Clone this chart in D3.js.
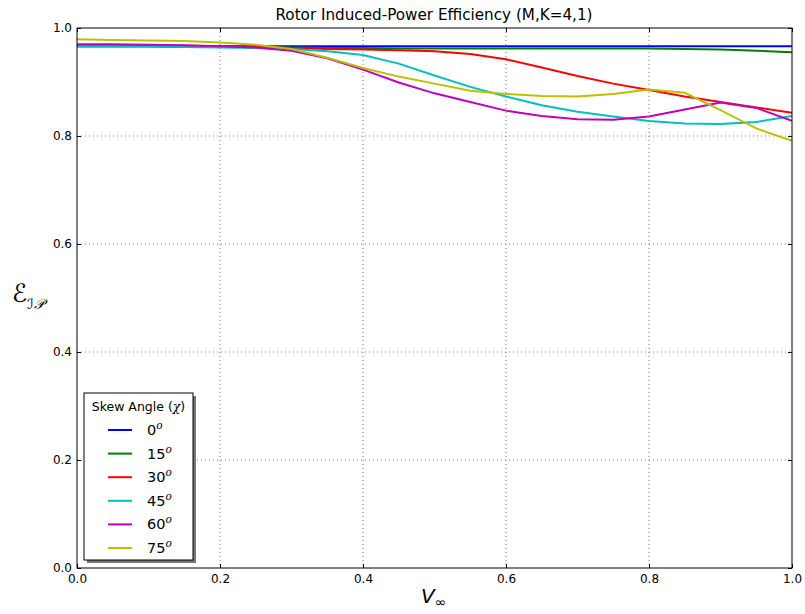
<!DOCTYPE html>
<html><head><meta charset="utf-8">
<script src="https://cdn.jsdelivr.net/npm/d3@7"></script>
<style>body{margin:0;background:#fff}svg{display:block}text{font-family:"DejaVu Sans",sans-serif}</style>
</head><body><svg id="c" width="805" height="614"></svg>
<script>
const xs = [0,0.05,0.1,0.15,0.2,0.25,0.3,0.35,0.4,0.45,0.5,0.55,0.6,0.65,0.7,0.75,0.8,0.85,0.9,0.95,1.0];
const angles = ["0","15","30","45","60","75"];
const colors = ["#0000ff","#008000","#ff0000","#00bfbf","#bf00bf","#bfbf00"];
const s0  = [0.966,0.966,0.966,0.966,0.966,0.966,0.966,0.966,0.966,0.966,0.966,0.966,0.966,0.966,0.966,0.966,0.966,0.966,0.966,0.966,0.966];
const s15 = [0.966,0.966,0.966,0.965,0.965,0.965,0.964,0.963,0.963,0.962,0.962,0.962,0.962,0.962,0.962,0.962,0.962,0.961,0.960,0.958,0.955];
const s30 = [0.968,0.968,0.967,0.967,0.966,0.965,0.963,0.961,0.960,0.959,0.957,0.952,0.942,0.927,0.911,0.897,0.885,0.873,0.863,0.853,0.843];
const s45 = [0.966,0.966,0.966,0.965,0.964,0.963,0.961,0.957,0.950,0.934,0.912,0.891,0.873,0.857,0.845,0.836,0.828,0.823,0.822,0.826,0.837];
const s60 = [0.970,0.970,0.969,0.968,0.966,0.964,0.958,0.944,0.923,0.899,0.879,0.863,0.847,0.837,0.831,0.830,0.836,0.849,0.862,0.852,0.828];
const s75 = [0.979,0.978,0.977,0.976,0.973,0.969,0.961,0.945,0.926,0.910,0.897,0.884,0.878,0.874,0.873,0.878,0.886,0.880,0.848,0.814,0.791];
const series = [s0,s15,s30,s45,s60,s75];
const xTicks = [0,0.2,0.4,0.6,0.8,1.0];
const yTicks = [0,0.2,0.4,0.6,0.8,1.0];

const svg = d3.select("#c");
const L=77,R=792,T=28,B=568;
const x = d3.scaleLinear().domain([0,1]).range([L,R]);
const y = d3.scaleLinear().domain([0,1]).range([B,T]);

// grid
const g = svg.append("g");
xTicks.slice(1,-1).forEach(t=>g.append("line").attr("x1",x(t)).attr("x2",x(t)).attr("y1",T).attr("y2",B)
  .attr("stroke","#555").attr("stroke-width",0.8).attr("stroke-dasharray","1,3"));
yTicks.slice(1,-1).forEach(t=>g.append("line").attr("y1",y(t)).attr("y2",y(t)).attr("x1",L).attr("x2",R)
  .attr("stroke","#555").attr("stroke-width",0.8).attr("stroke-dasharray","1,3"));

// lines
const line = d3.line().x((d,i)=>x(xs[i])).y(d=>y(d));
svg.append("clipPath").attr("id","cp").append("rect").attr("x",L).attr("y",T).attr("width",R-L).attr("height",B-T);
series.forEach((s,i)=>svg.append("path").attr("d",line(s)).attr("fill","none").attr("stroke",colors[i])
  .attr("stroke-width",2).attr("clip-path","url(#cp)"));

// axes with inward ticks
const fmt = d3.format(".1f");
const ax = svg.append("g").attr("transform",`translate(0,${B})`).call(d3.axisBottom(x).tickValues(xTicks).tickFormat(fmt).tickSizeInner(-4).tickSizeOuter(0).tickPadding(6));
const ay = svg.append("g").attr("transform",`translate(${L},0)`).call(d3.axisLeft(y).tickValues(yTicks).tickFormat(fmt).tickSizeInner(-4).tickSizeOuter(0).tickPadding(5));
const axt = svg.append("g").attr("transform",`translate(0,${T})`).call(d3.axisTop(x).tickValues(xTicks).tickFormat("").tickSizeInner(-4).tickSizeOuter(0));
const ayr = svg.append("g").attr("transform",`translate(${R},0)`).call(d3.axisRight(y).tickValues(yTicks).tickFormat("").tickSizeInner(-4).tickSizeOuter(0));
[ax,ay,axt,ayr].forEach(a=>{a.select(".domain").remove();a.selectAll("text").attr("font-size",12).attr("fill","#000").attr("font-family","DejaVu Sans");a.selectAll("line").attr("stroke","#000");});
svg.append("rect").attr("x",L).attr("y",T).attr("width",R-L).attr("height",B-T).attr("fill","none").attr("stroke","#000").attr("stroke-width",1);

// title
svg.append("text").attr("x",434).attr("y",20).attr("text-anchor","middle").attr("font-size",15.2).text("Rotor Induced-Power Efficiency (M,K=4,1)");

// axis labels
const xl = svg.append("text").attr("x",421).attr("y",603).attr("font-family","DejaVu Serif").attr("font-size",20);
xl.append("tspan").attr("font-style","italic").text("V");
xl.append("tspan").attr("font-size",14).attr("dy",4).text("∞");
const yl = svg.append("text").attr("x",12).attr("y",302).attr("font-family","DejaVu Serif").attr("font-size",25);
yl.append("tspan").attr("font-style","italic").text("ℰ");
yl.append("tspan").attr("font-size",14).attr("dy",7).attr("font-style","italic").text("ℐ𝒫");

// legend
const lg = svg.append("g");
lg.append("rect").attr("x",87).attr("y",396).attr("width",109).attr("height",167).attr("fill","#777");
lg.append("rect").attr("x",84).attr("y",393).attr("width",109).attr("height",167).attr("fill","#fff").attr("stroke","#000").attr("stroke-width",1);
const lt = lg.append("text").attr("x",138.5).attr("y",411).attr("text-anchor","middle").attr("font-size",12.5);
lt.append("tspan").text("Skew Angle (");
lt.append("tspan").attr("font-family","DejaVu Serif").attr("font-style","italic").text("χ");
lt.append("tspan").text(")");
angles.forEach((a,i)=>{
  const yy = 430 + i*23.6;
  lg.append("line").attr("x1",108).attr("x2",132).attr("y1",yy).attr("y2",yy).attr("stroke",colors[i]).attr("stroke-width",2);
  const t = lg.append("text").attr("x",147).attr("y",yy+5).attr("font-size",14.5);
  t.append("tspan").text(a);
  t.append("tspan").attr("font-size",10.5).attr("dy",-6).attr("font-style","italic").attr("font-family","DejaVu Serif").text("o");
});
</script></body></html>
